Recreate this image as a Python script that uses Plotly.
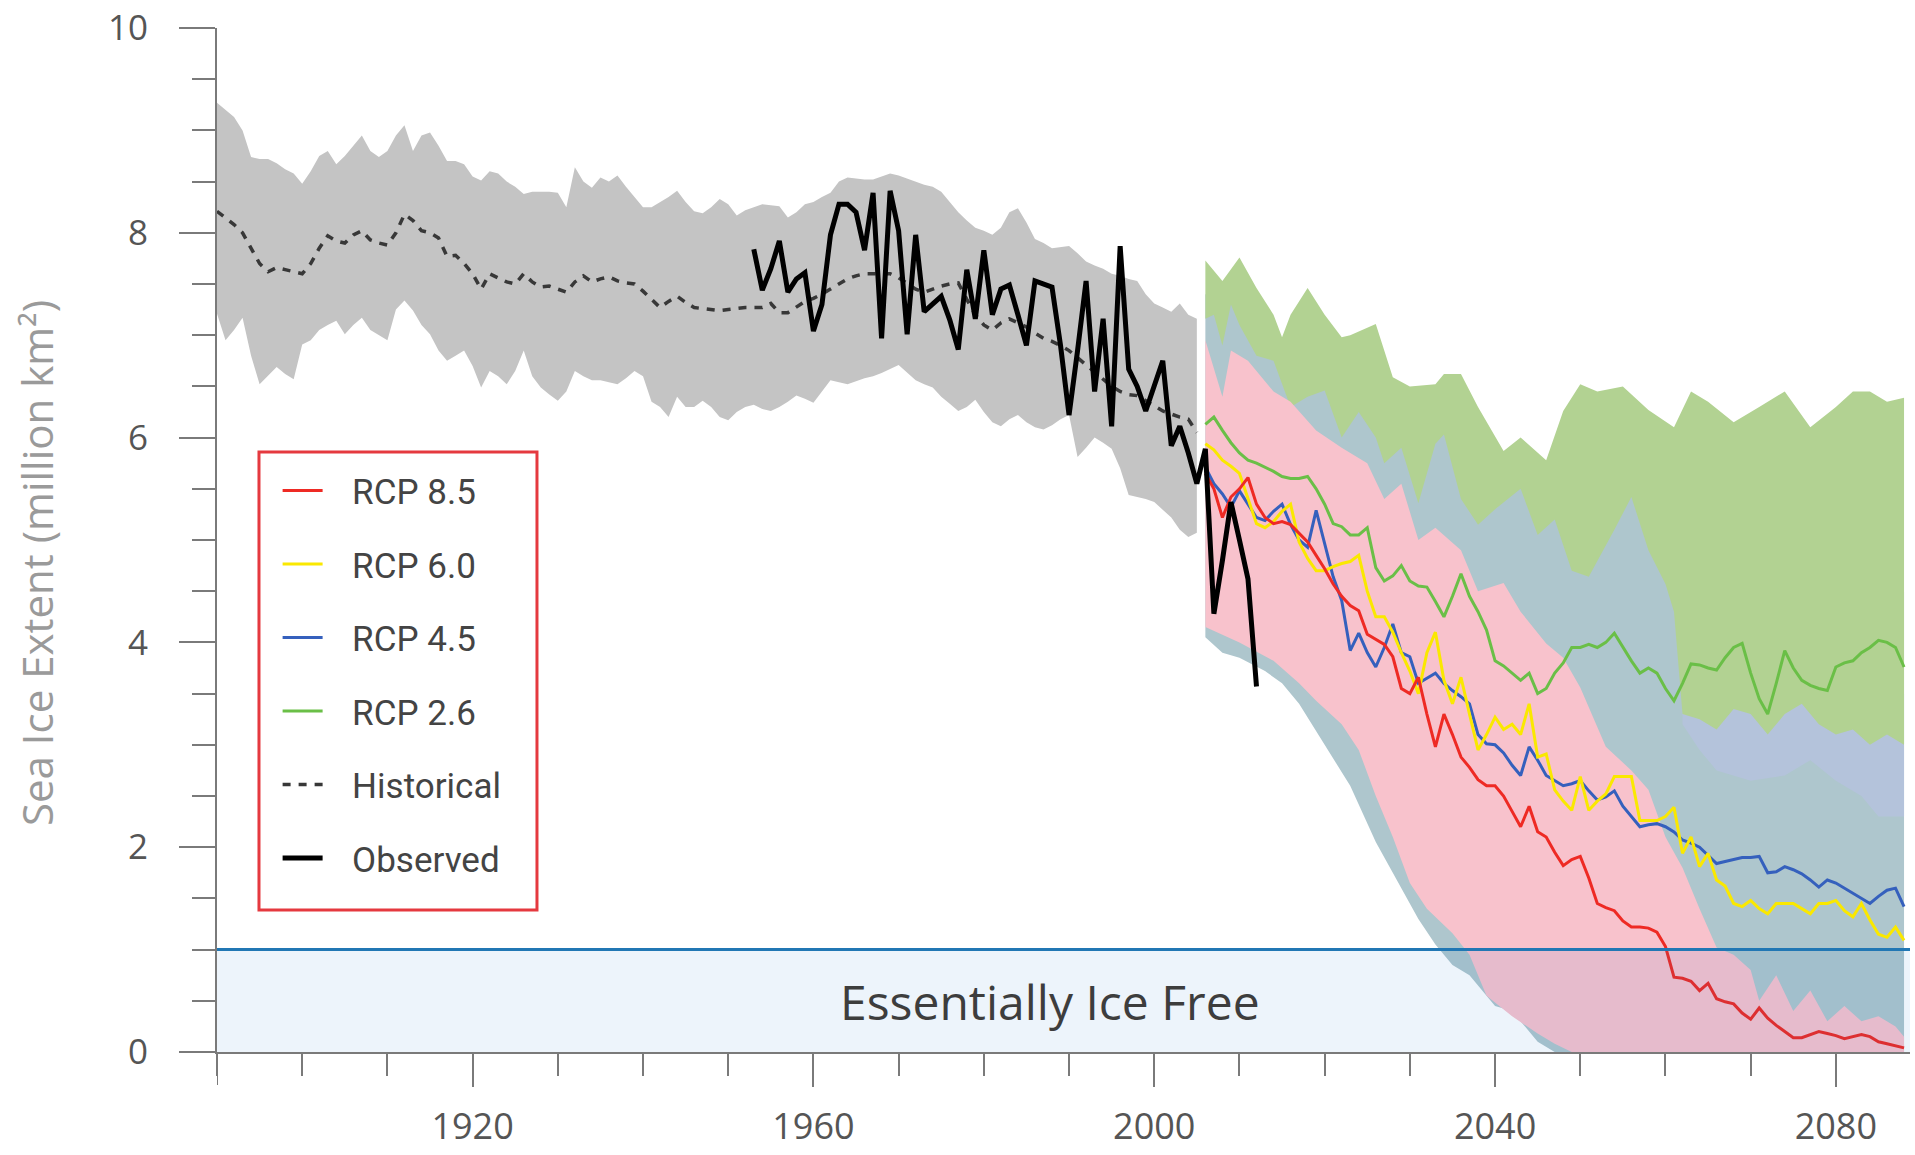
import plotly.graph_objects as go

# ---------------- data ----------------
hist_years = list(range(1890, 2006))
hist_mean = [8.21, 8.15, 8.08, 8.0, 7.85, 7.7, 7.62, 7.66, 7.64, 7.62,
             7.6, 7.7, 7.85, 7.97, 7.92, 7.9, 7.98, 8.02, 7.93, 7.9,
             7.88, 8.0, 8.18, 8.12, 8.02, 8.0, 7.95, 7.77, 7.78, 7.7,
             7.6, 7.45, 7.6, 7.56, 7.52, 7.5, 7.6, 7.52, 7.47, 7.48,
             7.45, 7.42, 7.52, 7.58, 7.52, 7.55, 7.57, 7.53, 7.51, 7.5,
             7.43, 7.35, 7.27, 7.33, 7.38, 7.32, 7.27, 7.26, 7.25, 7.24,
             7.25, 7.26, 7.27, 7.27, 7.27, 7.31, 7.22, 7.22, 7.28, 7.33,
             7.36, 7.4, 7.45, 7.5, 7.55, 7.58, 7.6, 7.6, 7.6, 7.6,
             7.56, 7.5, 7.45, 7.42, 7.45, 7.48, 7.5, 7.51, 7.35, 7.2,
             7.1, 7.05, 7.12, 7.16, 7.12, 7.08, 7.02, 6.97, 6.94, 6.9,
             6.85, 6.78, 6.7, 6.63, 6.56, 6.5, 6.45, 6.42, 6.41, 6.36,
             6.3, 6.26, 6.23, 6.2, 6.18, 6.05]
hist_hi = [9.27, 9.2, 9.13, 9.0, 8.74, 8.72, 8.72, 8.68, 8.62, 8.58,
           8.48, 8.6, 8.75, 8.8, 8.67, 8.75, 8.85, 8.95, 8.8, 8.74,
           8.8, 8.95, 9.05, 8.8, 8.95, 8.98, 8.85, 8.7, 8.7, 8.67,
           8.55, 8.51, 8.6, 8.58, 8.5, 8.45, 8.38, 8.4, 8.4, 8.4,
           8.39, 8.25, 8.64, 8.5, 8.44, 8.54, 8.5, 8.56, 8.45, 8.35,
           8.25, 8.25, 8.3, 8.35, 8.41, 8.3, 8.21, 8.19, 8.25, 8.33,
           8.28, 8.17, 8.22, 8.25, 8.28, 8.27, 8.26, 8.15, 8.2, 8.28,
           8.3, 8.35, 8.39, 8.5, 8.54, 8.53, 8.52, 8.52, 8.55, 8.58,
           8.56, 8.53, 8.5, 8.47, 8.45, 8.4, 8.3, 8.2, 8.12, 8.05,
           8.02, 7.98, 8.05, 8.2, 8.24, 8.1, 7.94, 7.9, 7.85, 7.86,
           7.87, 7.8, 7.72, 7.68, 7.65, 7.6, 7.58, 7.55, 7.53, 7.4,
           7.31, 7.27, 7.23, 7.31, 7.2, 7.16]
hist_lo = [7.21, 6.95, 7.05, 7.17, 6.8, 6.52, 6.6, 6.69, 6.62, 6.57,
           6.91, 6.95, 7.05, 7.1, 7.14, 7.01, 7.1, 7.17, 7.05, 7.0,
           6.95, 7.25, 7.34, 7.24, 7.1, 7.01, 6.85, 6.75, 6.8, 6.85,
           6.7, 6.49, 6.65, 6.6, 6.52, 6.65, 6.85, 6.6, 6.49, 6.42,
           6.36, 6.45, 6.65, 6.6, 6.56, 6.56, 6.54, 6.52, 6.58, 6.65,
           6.6, 6.35, 6.3, 6.2, 6.4, 6.3, 6.3, 6.36, 6.3, 6.2,
           6.17, 6.25, 6.3, 6.32, 6.28, 6.26, 6.3, 6.35, 6.41, 6.38,
           6.34, 6.45, 6.56, 6.54, 6.52, 6.55, 6.58, 6.6, 6.63, 6.67,
           6.71, 6.64, 6.56, 6.52, 6.49, 6.4, 6.33, 6.26, 6.3, 6.37,
           6.25, 6.15, 6.11, 6.18, 6.22, 6.15, 6.1, 6.08, 6.12, 6.18,
           6.22, 5.81, 5.9, 6.0, 5.95, 5.89, 5.7, 5.44, 5.42, 5.4,
           5.37, 5.3, 5.22, 5.1, 5.03, 5.07]

obs_years = list(range(1953, 2013))
obs_vals = [7.84, 7.44, 7.65, 7.92, 7.42, 7.55, 7.61, 7.04, 7.30, 7.98,
            8.28, 8.28, 8.20, 7.83, 8.39, 6.97, 8.41, 8.02, 7.01, 7.98,
            7.23, 7.30, 7.38, 7.15, 6.86, 7.64, 7.16, 7.83, 7.20, 7.45,
            7.49, 7.20, 6.90, 7.53, 7.50, 7.47, 6.90, 6.22, 6.85, 7.53,
            6.45, 7.16, 6.11, 7.87, 6.67, 6.50, 6.26, 6.50, 6.75, 5.92,
            6.11, 5.85, 5.55, 5.89, 4.28, 4.80, 5.37, 5.00, 4.62, 3.57]

proj_years = list(range(2006, 2089))
rcp85 = [5.65, 5.5, 5.22, 5.42, 5.5, 5.61, 5.35, 5.22, 5.16, 5.18,
         5.15, 5.06, 4.98, 4.85, 4.72, 4.57, 4.45, 4.36, 4.31, 4.08,
         4.03, 3.98, 3.86, 3.55, 3.5, 3.66, 3.3, 2.98, 3.3, 3.1,
         2.88, 2.78, 2.66, 2.6, 2.6, 2.5, 2.35, 2.2, 2.4, 2.15,
         2.1, 1.95, 1.82, 1.88, 1.91, 1.7, 1.45, 1.41, 1.38, 1.28,
         1.22, 1.22, 1.21, 1.17, 1.03, 0.73, 0.72, 0.69, 0.6, 0.67,
         0.52, 0.49, 0.47, 0.38, 0.32, 0.43, 0.33, 0.26, 0.2, 0.14,
         0.14, 0.17, 0.2, 0.18, 0.16, 0.13, 0.15, 0.17, 0.15, 0.1,
         0.08, 0.06, 0.04]
rcp60 = [5.94, 5.88, 5.78, 5.72, 5.65, 5.4, 5.16, 5.12, 5.18, 5.28,
         5.35, 4.98, 4.82, 4.70, 4.70, 4.74, 4.77, 4.79, 4.85, 4.5,
         4.25, 4.25, 4.1, 3.9, 3.72, 3.5, 3.9, 4.1, 3.63, 3.4,
         3.66, 3.3, 2.95, 3.1, 3.27, 3.15, 3.2, 3.1, 3.4, 2.88,
         2.91, 2.56, 2.45, 2.36, 2.69, 2.36, 2.45, 2.52, 2.69, 2.69,
         2.69, 2.26, 2.26, 2.26, 2.3, 2.39, 1.94, 2.1, 1.81, 1.94,
         1.68, 1.62, 1.45, 1.42, 1.48, 1.4, 1.35, 1.45, 1.45, 1.45,
         1.4, 1.35, 1.45, 1.45, 1.48, 1.38, 1.32, 1.45, 1.29, 1.15,
         1.12, 1.22, 1.09]
rcp45 = [5.71, 5.55, 5.45, 5.32, 5.48, 5.35, 5.22, 5.19, 5.28, 5.35,
         5.15, 5.0, 4.93, 5.29, 4.96, 4.64, 4.41, 3.92, 4.09, 3.9,
         3.76, 3.95, 4.18, 3.9, 3.86, 3.6, 3.65, 3.7, 3.6, 3.53,
         3.47, 3.4, 3.1, 3.01, 3.0, 2.92, 2.8, 2.7, 2.98, 2.85,
         2.7, 2.65, 2.6, 2.62, 2.65, 2.55, 2.46, 2.49, 2.55, 2.4,
         2.3, 2.2, 2.22, 2.23, 2.2, 2.15, 2.07, 2.04, 2.0, 1.92,
         1.84, 1.86, 1.88, 1.9, 1.9, 1.91, 1.75, 1.76, 1.81, 1.78,
         1.74, 1.68, 1.61, 1.68, 1.65, 1.6, 1.55, 1.5, 1.45, 1.52,
         1.58, 1.6, 1.42]
rcp26 = [6.13, 6.2, 6.07, 5.95, 5.85, 5.78, 5.75, 5.71, 5.67, 5.62,
         5.6, 5.6, 5.62, 5.5, 5.35, 5.16, 5.13, 5.05, 5.05, 5.12,
         4.73, 4.6, 4.65, 4.75, 4.6, 4.55, 4.54, 4.4, 4.25, 4.45,
         4.67, 4.45, 4.3, 4.12, 3.82, 3.77, 3.7, 3.63, 3.7, 3.5,
         3.55, 3.7, 3.8, 3.95, 3.95, 3.98, 3.95, 4.0, 4.09, 3.95,
         3.82, 3.7, 3.75, 3.7, 3.55, 3.43, 3.6, 3.79, 3.78, 3.75,
         3.73, 3.85, 3.95, 3.99, 3.7, 3.45, 3.3, 3.6, 3.92, 3.75,
         3.63, 3.58, 3.55, 3.53, 3.76, 3.8, 3.82, 3.9, 3.95, 4.02,
         4.0, 3.95, 3.76]

# model ranges (upper / lower bounds)
g_hi_years = [2006, 2008, 2010, 2012, 2014, 2015, 2016, 2018, 2020, 2022, 2023, 2026, 2028,
              2030, 2033, 2034, 2036, 2038, 2041, 2043, 2046, 2048, 2050, 2052, 2055, 2058,
              2061, 2063, 2065, 2068, 2071, 2074, 2077, 2080, 2082, 2084, 2086, 2088]
g_hi = [7.73, 7.53, 7.76, 7.46, 7.2, 6.98, 7.2, 7.46, 7.2, 6.98, 7.0, 7.11, 6.59,
        6.5, 6.52, 6.62, 6.62, 6.3, 5.87, 6.0, 5.78, 6.26, 6.52, 6.45, 6.5, 6.27,
        6.1, 6.45, 6.35, 6.15, 6.3, 6.45, 6.1, 6.3, 6.45, 6.45, 6.35, 6.39]
g_lo_years = [2006, 2007, 2008, 2009, 2010, 2012, 2014, 2016, 2018, 2020, 2022, 2024, 2026,
              2027, 2029, 2031, 2033, 2034, 2036, 2038, 2040, 2043, 2045, 2047, 2049, 2051,
              2054, 2056, 2058, 2060, 2061, 2062, 2064, 2066, 2068, 2070, 2072, 2074, 2076,
              2078, 2080, 2082, 2084, 2086, 2088]
g_lo = [7.16, 7.2, 6.9, 7.3, 7.1, 6.8, 6.75, 6.3, 6.4, 6.46, 6.0, 6.25, 6.0,
        5.75, 5.9, 5.36, 5.94, 6.03, 5.4, 5.15, 5.3, 5.5, 5.05, 5.2, 4.7, 4.64,
        5.1, 5.42, 4.9, 4.57, 4.3, 3.3, 3.25, 3.15, 3.35, 3.3, 3.1, 3.3, 3.4,
        3.2, 3.1, 3.15, 3.0, 3.1, 3.0]

t_hi_years = [2006, 2010, 2015, 2020, 2025, 2030, 2035, 2040, 2045, 2050, 2056, 2060, 2065, 2088]
t_hi = [7.4, 7.35, 6.9, 6.7, 6.4, 6.25, 6.2, 5.6, 5.6, 5.3, 5.6, 5.4, 4.5, 4.5]
t_lo_years = [2006, 2008, 2010, 2013, 2015, 2017, 2020, 2023, 2026, 2028, 2031, 2033,
              2035, 2037, 2040, 2042, 2045, 2047, 2088]
t_lo = [4.05, 3.9, 3.85, 3.72, 3.6, 3.4, 3.0, 2.6, 2.05, 1.75, 1.3, 1.05,
        0.85, 0.75, 0.45, 0.4, 0.1, 0.0, 0.0]

l_hi_years = [2062, 2088]
l_hi = [3.5, 3.5]
l_lo_years = [2062, 2064, 2066, 2070, 2074, 2077, 2080, 2083, 2085, 2088]
l_lo = [3.2, 2.95, 2.75, 2.65, 2.7, 2.85, 2.65, 2.5, 2.3, 2.3]

p_hi_years = [2006, 2008, 2009, 2011, 2014, 2016, 2019, 2022, 2025, 2027, 2029, 2031, 2033,
              2036, 2038, 2041, 2043, 2046, 2048, 2050, 2053, 2056, 2058, 2060, 2062, 2064,
              2066, 2068, 2070, 2071, 2073, 2075, 2077, 2079, 2081, 2083, 2085, 2087, 2088]
p_hi = [6.95, 6.4, 6.85, 6.75, 6.45, 6.35, 6.07, 5.9, 5.75, 5.4, 5.55, 5.0, 5.12,
        4.9, 4.5, 4.58, 4.3, 3.99, 3.85, 3.56, 2.98, 2.75, 2.56, 2.1, 1.8, 1.4,
        1.02, 0.95, 0.8, 0.5, 0.75, 0.4, 0.6, 0.3, 0.45, 0.3, 0.35, 0.25, 0.15]
p_lo_years = [2006, 2010, 2014, 2017, 2019, 2022, 2024, 2026, 2028, 2030, 2032, 2035,
              2037, 2039, 2042, 2045, 2047, 2049, 2088]
p_lo = [4.15, 4.0, 3.82, 3.6, 3.43, 3.2, 2.95, 2.5, 2.1, 1.65, 1.4, 1.16,
        0.95, 0.55, 0.35, 0.18, 0.08, 0.0, 0.0]

ice_free_level = 1.0
x_range = [1890, 2088.7]

# ---------------- figure ----------------
fig = go.Figure()


def band(xh, yh, xl, yl, color):
    fig.add_trace(go.Scatter(
        x=list(xh) + list(xl)[::-1], y=list(yh) + list(yl)[::-1],
        fill="toself", fillcolor=color, mode="lines", line=dict(width=0),
        hoverinfo="skip", showlegend=False))


band(hist_years, hist_hi, hist_years, hist_lo, "#C4C4C4")
band(t_hi_years, t_hi, t_lo_years, t_lo, "#AEC6CD")
band(l_hi_years, l_hi, l_lo_years, l_lo, "#B4C3DB")
band(g_hi_years, g_hi, g_lo_years, g_lo, "#B2D292")
band(p_hi_years, p_hi, p_lo_years, p_lo, "#F8C2CC")

pad = "\u00a0\u00a0\u2009"
fig.add_trace(go.Scatter(x=hist_years, y=hist_mean, mode="lines", name=pad + "Historical",
                         line=dict(color="#383838", width=3.5, dash="8px,8px"),
                         legendgroup="h", legendrank=5))
fig.add_trace(go.Scatter(x=proj_years, y=rcp26, mode="lines", name=pad + "RCP 2.6",
                         line=dict(color="#6ABF47", width=3), legendgroup="26", legendrank=4))
fig.add_trace(go.Scatter(x=proj_years, y=rcp45, mode="lines", name=pad + "RCP 4.5",
                         line=dict(color="#3560BD", width=3), legendgroup="45", legendrank=3))
fig.add_trace(go.Scatter(x=proj_years, y=rcp60, mode="lines", name=pad + "RCP 6.0",
                         line=dict(color="#FAE800", width=3), legendgroup="60", legendrank=2))
fig.add_trace(go.Scatter(x=proj_years, y=rcp85, mode="lines", name=pad + "RCP 8.5",
                         line=dict(color="#EE2A24", width=3), legendgroup="85", legendrank=1))
fig.add_trace(go.Scatter(x=obs_years, y=obs_vals, mode="lines", name=pad + "Observed",
                         line=dict(color="#000000", width=5), legendgroup="o", legendrank=6))

axis_gray = "#7a7a7a"
fig.update_layout(
    width=1915, height=1155,
    margin=dict(l=217, r=5, t=28, b=103),
    plot_bgcolor="white", paper_bgcolor="white",
    font=dict(family="Open Sans", color="#555555"),
    legend=dict(x=0.0358, y=0.577, xanchor="left", yanchor="top",
                bgcolor="rgba(0,0,0,0)", borderwidth=0,
                font=dict(family="Roboto", size=35, color="#444444"),
                tracegroupgap=25, itemwidth=40),
    xaxis=dict(range=x_range, showgrid=False, zeroline=False, showline=True,
               automargin=False, ticklabeloverflow="allow",
               linecolor=axis_gray, linewidth=2, ticks="outside", tickcolor=axis_gray,
               tickwidth=2, ticklen=33, tick0=1920, dtick=40, ticklabelstandoff=9,
               tickfont=dict(size=36, color="#555555"),
               minor=dict(ticks="outside", ticklen=22, tickcolor=axis_gray, tickwidth=2,
                          tick0=1890, dtick=10, showgrid=False)),
    yaxis=dict(range=[0, 10], showgrid=False, zeroline=False, showline=True,
               automargin=False, ticklabeloverflow="allow",
               linecolor=axis_gray, linewidth=2, ticks="outside", tickcolor=axis_gray,
               tickwidth=2, ticklen=36, tick0=0, dtick=2, ticklabelstandoff=24,
               tickfont=dict(size=35, color="#555555"),
               minor=dict(ticks="outside", ticklen=23, tickcolor=axis_gray, tickwidth=2,
                          dtick=0.5, showgrid=False)),
    shapes=[
        dict(type="rect", xref="x", yref="y", x0=x_range[0], x1=x_range[1], y0=0,
             y1=ice_free_level, fillcolor="rgba(20,120,210,0.08)", line=dict(width=0),
             layer="above"),
        dict(type="line", xref="x", yref="y", x0=x_range[0], x1=x_range[1],
             y0=ice_free_level, y1=ice_free_level, line=dict(color="#2177B4", width=3),
             layer="above"),
        dict(type="line", xref="x", yref="paper", x0=x_range[0], x1=x_range[0],
             y0=0, y1=-33 / 1024, line=dict(color=axis_gray, width=2)),
        dict(type="rect", xref="paper", yref="paper", x0=0.0248, x1=0.189,
             y0=0.1387, y1=0.5859, line=dict(color="#E5393F", width=3),
             fillcolor="rgba(0,0,0,0)", layer="above"),
    ],
    annotations=[
        dict(text="Sea Ice Extent (million km²)", xref="paper", yref="paper",
             x=-0.1066, y=0.477, textangle=-90, showarrow=False,
             xanchor="center", yanchor="middle",
             font=dict(family="Open Sans", size=42, color="#9a9a9a")),
        dict(text="Essentially Ice Free", xref="x", yref="y", x=1987.8, y=0.49,
             showarrow=False, xanchor="center", yanchor="middle",
             font=dict(family="Open Sans", size=48, color="#3d3d3d")),
    ],
)

# remove the default page margin so the figure fills the window exactly
fig.write_html("out.html",
               config={"displayModeBar": False},
               post_script="document.body.style.margin='0';document.body.style.overflow='hidden';")
